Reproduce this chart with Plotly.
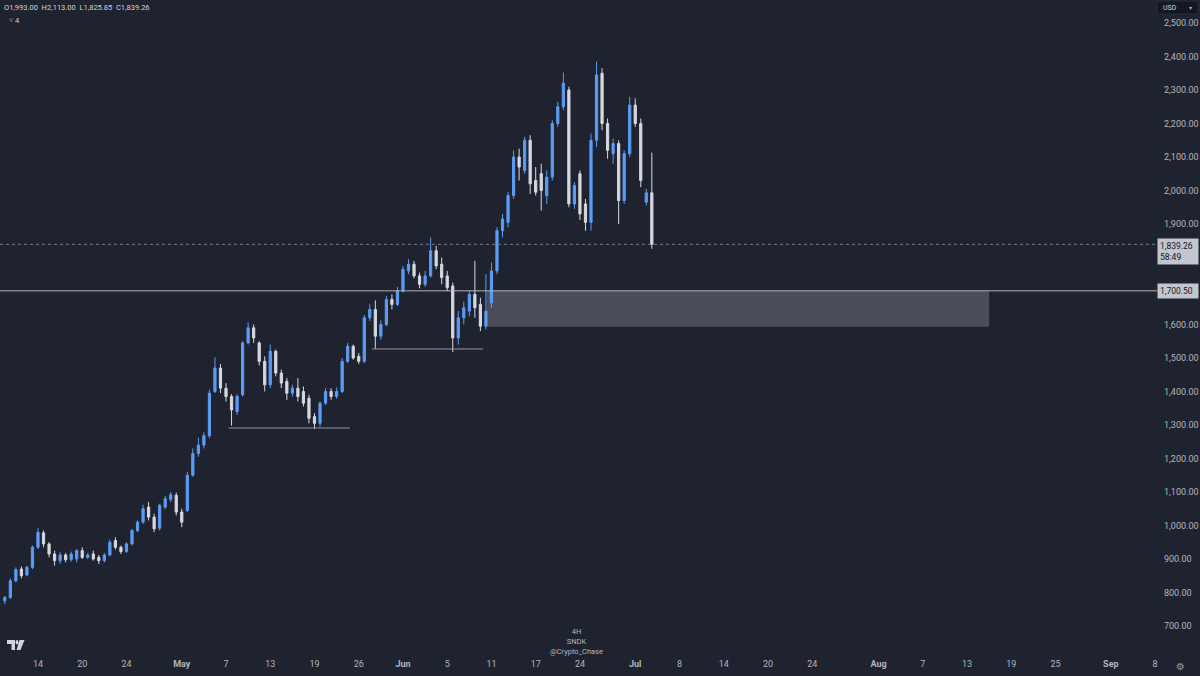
import plotly.graph_objects as go
import pandas as pd

# ---------------- data (4H bars, 2 per trading session) ----------------
opens = [775, 785, 835, 870, 852, 875, 935, 978, 945, 915,
         895, 912, 898, 900, 925, 905, 915, 905, 895, 912,
         955, 935, 922, 945, 985, 1010, 1055, 1025, 992, 1055,
         1078, 1090, 1040, 1045, 1150, 1215, 1240, 1268, 1400, 1470,
         1410, 1385, 1340, 1390, 1545, 1590, 1545, 1490, 1420, 1520,
         1455, 1430, 1395, 1410, 1400, 1380, 1325, 1305, 1365, 1400,
         1385, 1400, 1490, 1535, 1505, 1490, 1620, 1645, 1565, 1600,
         1675, 1660, 1700, 1760, 1780, 1745, 1720, 1745, 1820, 1780,
         1745, 1715, 1560, 1620, 1640, 1690, 1660, 1595, 1665, 1760,
         1880, 1905, 1985, 2100, 2060, 2150, 2030, 2050, 1985, 2040,
         2200, 2250, 2300, 1960, 2050, 1960, 1905, 2150, 2350, 2200,
         2110, 2140, 1970, 2110, 2255, 2200, 1965, 1993.00]
highs = [790, 842, 875, 878, 880, 940, 992, 985, 950, 925,
         920, 918, 922, 930, 935, 918, 925, 912, 918, 958,
         965, 940, 950, 990, 1015, 1062, 1070, 1035, 1065, 1088,
         1100, 1098, 1050, 1160, 1230, 1262, 1278, 1405, 1502, 1482,
         1425, 1392, 1392, 1550, 1606, 1600, 1550, 1505, 1540, 1525,
         1465, 1440, 1420, 1440, 1415, 1390, 1335, 1370, 1410, 1410,
         1412, 1500, 1545, 1540, 1515, 1628, 1660, 1672, 1612, 1685,
         1690, 1712, 1775, 1795, 1790, 1755, 1760, 1860, 1835, 1800,
         1760, 1725, 1640, 1668, 1700, 1790, 1680, 1750, 1785, 1890,
         1930, 1995, 2120, 2125, 2160, 2165, 2070, 2080, 2060, 2210,
         2265, 2352, 2310, 2025, 2060, 1975, 2170, 2385, 2365, 2215,
         2155, 2150, 2120, 2280, 2275, 2215, 2005, 2113.00]
lows = [765, 780, 830, 842, 848, 870, 930, 935, 905, 880,
        885, 890, 892, 890, 900, 900, 895, 885, 890, 908,
        928, 915, 918, 940, 980, 1005, 1015, 980, 985, 1048,
        1070, 1030, 995, 1040, 1145, 1205, 1230, 1260, 1395, 1395,
        1370, 1298, 1330, 1385, 1540, 1545, 1478, 1400, 1410, 1445,
        1410, 1375, 1385, 1370, 1355, 1305, 1288, 1295, 1360, 1375,
        1378, 1395, 1485, 1495, 1482, 1485, 1610, 1528, 1555, 1595,
        1645, 1655, 1695, 1750, 1738, 1708, 1712, 1740, 1765, 1720,
        1700, 1518, 1540, 1600, 1625, 1620, 1580, 1585, 1650, 1750,
        1860, 1890, 1975, 2030, 2050, 1990, 1985, 1940, 1960, 2030,
        2190, 2240, 1950, 1945, 1912, 1880, 1880, 2130, 2180, 2095,
        2080, 1900, 1960, 2100, 2190, 2010, 1955, 1825.85]
closes = [785, 835, 868, 850, 875, 935, 980, 945, 915, 895,
          912, 898, 915, 925, 905, 912, 900, 895, 912, 950,
          935, 922, 945, 985, 1010, 1050, 1025, 990, 1060, 1080,
          1092, 1040, 1010, 1150, 1215, 1240, 1268, 1395, 1470, 1410,
          1385, 1345, 1385, 1545, 1590, 1560, 1490, 1420, 1520, 1455,
          1425, 1395, 1410, 1385, 1365, 1320, 1305, 1365, 1400, 1385,
          1400, 1490, 1535, 1500, 1490, 1620, 1645, 1565, 1600, 1675,
          1660, 1700, 1765, 1780, 1745, 1720, 1745, 1820, 1775, 1740,
          1710, 1560, 1620, 1650, 1690, 1650, 1595, 1640, 1760, 1880,
          1915, 1985, 2100, 2070, 2150, 2020, 1995, 2000, 2040, 2200,
          2250, 2320, 1960, 2015, 1930, 1905, 2150, 2345, 2200, 2120,
          2140, 1970, 2110, 2255, 2200, 2030, 1993, 1839.26]

first_session = "2026-04-09"
last_axis_day = "2026-09-30"
market_holidays = ["2026-05-25", "2026-06-19", "2026-07-03", "2026-09-07"]
bars_per_day = 2

tick_dates = ["2026-04-14", "2026-04-20", "2026-04-24", "2026-05-01", "2026-05-07",
              "2026-05-13", "2026-05-19", "2026-05-26", "2026-06-01", "2026-06-05",
              "2026-06-11", "2026-06-17", "2026-06-24", "2026-07-01", "2026-07-08",
              "2026-07-14", "2026-07-20", "2026-07-24", "2026-08-03", "2026-08-07",
              "2026-08-13", "2026-08-19", "2026-08-25", "2026-09-01", "2026-09-08"]
tick_labels = ["14", "20", "24", "<b>May</b>", "7", "13", "19", "26", "<b>Jun</b>", "5",
               "11", "17", "24", "<b>Jul</b>", "8", "14", "20", "24", "<b>Aug</b>", "7",
               "13", "19", "25", "<b>Sep</b>", "8"]

# price ticks visible on the scale (1,700 and 1,800 are hidden behind the price tags)
price_ticks = [700, 800, 900, 1000, 1100, 1200, 1300, 1400, 1500, 1600,
               1900, 2000, 2100, 2200, 2300, 2400, 2500]

last_price = 1839.26
countdown = "58:49"
level_price = 1700.50
zone_low = 1593.0
zone_start_bar = 87.2
zone_end_bar = 178.0
range_low_1 = (40.5, 62.4, 1291.0)
range_low_2 = (66.4, 86.5, 1527.0)
header = "O1,993.00  H2,113.00  L1,825.85  C1,839.26"

# ---------------- calendar -> bar index axis ----------------
days = pd.bdate_range(first_session, last_axis_day, freq="C", holidays=market_holidays)
day_pos = {d.strftime("%Y-%m-%d"): k for k, d in enumerate(days)}
tick_vals = [bars_per_day * day_pos[d] for d in tick_dates]
bar_x = list(range(len(closes)))

W, H = 1200, 676
BG = "#1f2330"
TXT = "#b2b5be"
UP = "#5b9cf6"
DN = "#d6d9e0"
FONT = "Roboto"
X_DOM = 1157 / W

def px(x):
    return x / W

def py(y):
    return 1 - y / H

fig = go.Figure()
fig.add_trace(go.Candlestick(
    x=bar_x, open=opens, high=highs, low=lows, close=closes,
    increasing=dict(line=dict(color=UP, width=1), fillcolor=UP),
    decreasing=dict(line=dict(color=DN, width=1), fillcolor=DN),
    whiskerwidth=0, hoverinfo="skip", showlegend=False,
))

shapes = []
shapes.append(dict(type="line", xref="paper", yref="y", x0=0, x1=X_DOM,
                   y0=last_price, y1=last_price,
                   line=dict(color="#787b86", width=1, dash="dot")))
shapes.append(dict(type="rect", xref="x", yref="y", x0=zone_start_bar, x1=zone_end_bar,
                   y0=zone_low, y1=level_price, line=dict(width=0),
                   fillcolor="rgba(200,203,212,0.26)", layer="below"))
shapes.append(dict(type="line", xref="paper", yref="y", x0=0, x1=X_DOM,
                   y0=level_price, y1=level_price,
                   line=dict(color="#b2b5be", width=1)))
for (a, b, lvl) in (range_low_1, range_low_2):
    shapes.append(dict(type="line", xref="x", yref="y", x0=a, x1=b, y0=lvl, y1=lvl,
                       line=dict(color="#9598a1", width=1)))

# TradingView logo approximation
LOGO = "#d1d4dc"
shapes.append(dict(type="rect", xref="paper", yref="paper", x0=px(7), x1=px(15),
                   y0=py(644), y1=py(640), fillcolor=LOGO, line=dict(width=0)))
shapes.append(dict(type="rect", xref="paper", yref="paper", x0=px(11.5), x1=px(15),
                   y0=py(650), y1=py(640), fillcolor=LOGO, line=dict(width=0)))
shapes.append(dict(type="circle", xref="paper", yref="paper", x0=px(15.6), x1=px(18.4),
                   y0=py(644.5), y1=py(640), fillcolor=LOGO, line=dict(width=0)))
shapes.append(dict(type="path", xref="paper", yref="paper",
                   path=f"M {px(19.5)},{py(640)} L {px(24.5)},{py(640)} L {px(20.5)},{py(650)} L {px(16.5)},{py(650)} Z",
                   fillcolor=LOGO, line=dict(width=0)))
shapes.append(dict(type="rect", xref="paper", yref="paper", x0=px(1157), x1=px(1198),
                   y0=py(14), y1=py(1), fillcolor="#131722",
                   line=dict(color="#2a2e39", width=1)))

ann = []
ann.append(dict(xref="paper", yref="paper", x=px(2), y=py(1), xanchor="left", yanchor="top",
                text=header, showarrow=False, font=dict(family=FONT, size=7.5, color="#d1d4dc")))
ann.append(dict(xref="paper", yref="paper", x=px(7), y=py(14), xanchor="left", yanchor="top",
                text="˅ 4", showarrow=False, font=dict(family=FONT, size=7.5, color="#d1d4dc")))
ann.append(dict(xref="paper", yref="paper", x=px(1161), y=py(7.5), xanchor="left", yanchor="middle",
                text="USD", showarrow=False, font=dict(family=FONT, size=7, color="#d1d4dc")))
ann.append(dict(xref="paper", yref="paper", x=px(1194), y=py(7.5), xanchor="right", yanchor="middle",
                text="▾", showarrow=False, font=dict(family="DejaVu Sans", size=6, color="#b2b5be")))
ann.append(dict(xref="paper", yref="y", x=px(1157), y=last_price, xanchor="left", yanchor="top",
                yshift=6, text=f"{last_price:,.2f}<br>{countdown}", align="left", showarrow=False,
                bgcolor="#c3c6ce", borderpad=2, width=36,
                font=dict(family=FONT, size=8.5, color="#131722")))
ann.append(dict(xref="paper", yref="y", x=px(1157), y=level_price, xanchor="left", yanchor="middle",
                text=f"{level_price:,.2f}", align="left", showarrow=False,
                bgcolor="#c3c6ce", borderpad=2, width=36,
                font=dict(family=FONT, size=8.5, color="#131722")))
ann.append(dict(xref="paper", yref="paper", x=px(576), y=py(625), xanchor="center", yanchor="top",
                text="4H<br>SNDK<br>@Crypto_Chase", showarrow=False,
                font=dict(family=FONT, size=7.5, color="#b2b5be")))
ann.append(dict(xref="paper", yref="paper", x=px(1180), y=py(666), xanchor="center", yanchor="middle",
                text="⚙", showarrow=False, font=dict(family="DejaVu Sans", size=10, color="#9598a1")))

x_left = -0.87
x_right = 208.35

fig.update_layout(
    width=W, height=H,
    margin=dict(l=0, r=0, t=0, b=0),
    paper_bgcolor=BG, plot_bgcolor=BG,
    font=dict(family=FONT, color=TXT),
    boxgap=0.6, boxgroupgap=0.0,
    shapes=shapes, annotations=ann,
    showlegend=False,
    xaxis=dict(domain=[0, X_DOM], range=[x_left, x_right], rangeslider=dict(visible=False),
               tickmode="array", tickvals=tick_vals, ticktext=tick_labels,
               showgrid=False, zeroline=False, showline=False, ticks="",
               tickfont=dict(family=FONT, size=9, color=TXT), automargin=False,
               ticklabelstandoff=2, fixedrange=True),
    yaxis=dict(domain=[21 / H, 1], range=[613.4, 2568.7], side="right",
               tickmode="array", tickvals=price_ticks,
               ticktext=[f"{v:,.2f}" for v in price_ticks],
               showgrid=False, zeroline=False, showline=False, ticks="",
               tickfont=dict(family=FONT, size=9, color=TXT), automargin=False,
               ticklabelstandoff=6, fixedrange=True),
)

fig.write_html("out.html")
